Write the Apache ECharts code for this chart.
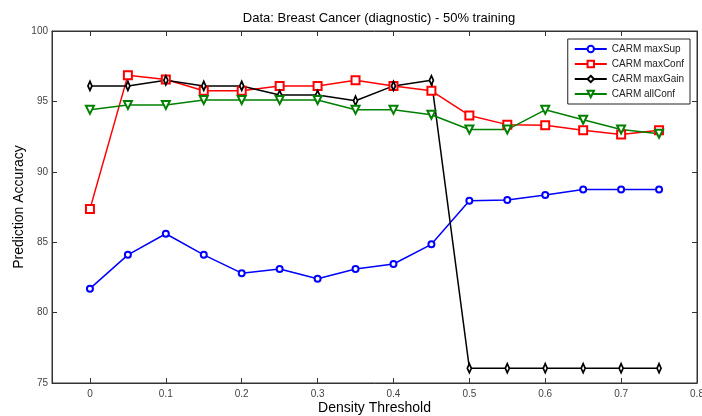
<!DOCTYPE html>
<html><head><meta charset="utf-8">
<script src="https://cdn.jsdelivr.net/npm/echarts@6/dist/echarts.min.js"></script>
<style>html,body{margin:0;padding:0;background:#fff}#c{width:702px;height:416px}</style>
</head><body><div id="c"></div>
<script>
const thresholds = [0, 0.05, 0.1, 0.15, 0.2, 0.25, 0.3, 0.35, 0.4, 0.45, 0.5, 0.55, 0.6, 0.65, 0.7, 0.75];
const maxSup  = [81.7, 84.1, 85.6, 84.1, 82.8, 83.1, 82.4, 83.1, 83.45, 84.85, 87.95, 88.0, 88.35, 88.75, 88.75, 88.75];
const maxConf = [87.35, 96.85, 96.55, 95.75, 95.75, 96.1, 96.1, 96.5, 96.1, 95.75, 94.0, 93.35, 93.3, 92.95, 92.65, 92.95];
const maxGain = [96.1, 96.1, 96.5, 96.1, 96.1, 95.45, 95.45, 95.05, 96.1, 96.5, 76.05, 76.05, 76.05, 76.05, 76.05, 76.05];
const allConf = [94.4, 94.75, 94.75, 95.1, 95.1, 95.1, 95.1, 94.4, 94.4, 94.05, 93.0, 93.0, 94.4, 93.7, 93.0, 92.7];
const xTicks = [0, 0.1, 0.2, 0.3, 0.4, 0.5, 0.6, 0.7, 0.8];
const yTicks = [75, 80, 85, 90, 95, 100];

const pairs = v => thresholds.map((t, i) => [t, v[i]]);
const font = 'Liberation Sans, Arial, sans-serif';
const chart = echarts.init(document.getElementById('c'));
const tickLbl = {color: '#444', fontSize: 10, fontFamily: font};
function mk(name, data, color, symbol, size, rot) {
  return {name, type: 'line', data: pairs(data), symbol, symbolSize: size, symbolRotate: rot || 0,
    showSymbol: true, animation: false, lineStyle: {color, width: 1.5}, itemStyle: {color, borderColor: color, borderWidth: 1.5}};
}
chart.setOption({
  animation: false,
  title: {text: 'Data: Breast Cancer (diagnostic) - 50% training', left: 374, textAlign: 'center', top: 7,
    textStyle: {fontSize: 13, fontWeight: 'normal', color: '#000', fontFamily: font}},
  grid: {left: 52, right: 5, top: 31, bottom: 33, outerBoundsMode: 'none', containLabel: false,
    show: true, borderColor: '#333', borderWidth: 1},
  legend: {orient: 'vertical', right: 12, top: 39, itemWidth: 32, itemHeight: 8, itemGap: 5,
    backgroundColor: '#fff', borderColor: '#222', borderWidth: 1, padding: [5, 6, 5, 6],
    textStyle: {fontSize: 10, color: '#222', fontFamily: font},
    data: ['CARM maxSup', 'CARM maxConf', 'CARM maxGain', 'CARM allConf']},
  xAxis: [{type: 'value', min: -0.05, max: 0.8, name: 'Density Threshold', nameLocation: 'middle', nameGap: 18, nameMoveOverlap: false,
    nameTextStyle: {fontSize: 14, color: '#000', fontFamily: font},
    axisLine: {onZero: false, lineStyle: {color: '#333'}}, splitLine: {show: false},
    axisTick: {inside: true, length: 5, customValues: xTicks, lineStyle: {color: '#333'}},
    axisLabel: Object.assign({customValues: xTicks, margin: 6, formatter: v => String(+v.toFixed(2))}, tickLbl)},
    {type: 'value', position: 'top', min: -0.05, max: 0.8, axisLine: {onZero: false, lineStyle: {color: '#333'}}, splitLine: {show: false},
    axisTick: {inside: true, length: 5, customValues: xTicks, lineStyle: {color: '#333'}}, axisLabel: {show: false}}],
  yAxis: [{type: 'value', min: 75, max: 100, interval: 5, name: 'Prediction Accuracy', nameLocation: 'middle', nameGap: 26, nameMoveOverlap: false,
    nameTextStyle: {fontSize: 14, color: '#000', fontFamily: font},
    axisLine: {show: true, onZero: false, lineStyle: {color: '#333'}}, splitLine: {show: false},
    axisTick: {show: true, inside: true, length: 5, lineStyle: {color: '#333'}},
    axisLabel: Object.assign({margin: 4}, tickLbl)},
    {type: 'value', position: 'right', min: 75, max: 100, interval: 5,
    axisLine: {show: true, onZero: false, lineStyle: {color: '#333'}}, splitLine: {show: false},
    axisTick: {show: true, inside: true, length: 5, lineStyle: {color: '#333'}}, axisLabel: {show: false}}],
  series: [
    mk('CARM maxSup', maxSup, '#0000ff', 'emptyCircle', 6),
    mk('CARM maxConf', maxConf, '#ff0000', 'emptyRect', 8),
    mk('CARM maxGain', maxGain, '#000000', 'emptyDiamond', [4, 9]),
    mk('CARM allConf', allConf, '#008000', 'emptyTriangle', 8, 180)
  ]
});
</script></body></html>
